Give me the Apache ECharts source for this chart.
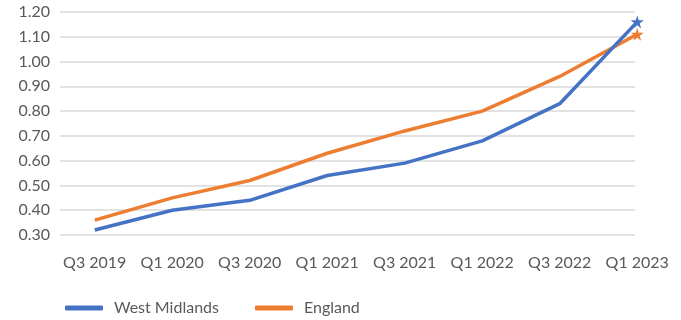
<!DOCTYPE html>
<html>
<head>
<meta charset="utf-8">
<script src="https://cdn.jsdelivr.net/npm/echarts@6/dist/echarts.min.js"></script>
<style>
  html, body { margin: 0; padding: 0; background: #ffffff; }
  #chart { width: 681px; height: 320px; }
</style>
</head>
<body>
<div id="chart"></div>
<script>
// Quarterly values for each area
const quarters = ['Q3 2019', 'Q1 2020', 'Q3 2020', 'Q1 2021', 'Q3 2021', 'Q1 2022', 'Q3 2022', 'Q1 2023'];
const westMidlands = [0.32, 0.40, 0.44, 0.54, 0.59, 0.68, 0.83, 1.16];
const england = [0.36, 0.45, 0.52, 0.63, 0.72, 0.80, 0.94, 1.11];
const yTicks = { min: 0.30, max: 1.20, step: 0.10 };

const blue = '#4472C4';
const orange = '#ED7D31';
const textColor = '#595959';
const font = 'Lato';

// star-like end marker
const starPath = 'path://M50,0 L61,35 L98,35 L68,57 L79,92 L50,70 L21,92 L32,57 L2,35 L39,35 Z';

function withEndMarker(values) {
  return values.map((v, i) => i === values.length - 1
    ? { value: v, symbol: starPath, symbolSize: 13 }
    : { value: v, symbol: 'none' });
}

const chart = echarts.init(document.getElementById('chart'), null, { renderer: 'canvas' });

chart.setOption({
  animation: false,
  backgroundColor: '#ffffff',
  textStyle: { fontFamily: font },
  legend: {
    left: 60,
    top: 295,
    itemWidth: 38,
    itemHeight: 5,
    itemGap: 36,
    icon: 'roundRect',
    textStyle: { color: textColor, fontSize: 16, fontFamily: font, padding: [0, 0, 0, 6] },
    data: ['West Midlands', 'England']
  },
  grid: [
    { left: 60, right: 46, top: 12, bottom: 85 },
    { left: 56, right: 5, top: 12, bottom: 85 }
  ],
  xAxis: [
    { gridIndex: 0, type: 'category', data: quarters, show: false },
    {
      gridIndex: 1,
      type: 'category',
      data: quarters,
      boundaryGap: true,
      axisLine: { show: false },
      axisTick: { show: false },
      axisLabel: { color: textColor, fontSize: 16, fontFamily: font, margin: 20, interval: 0 }
    }
  ],
  yAxis: [
    {
      gridIndex: 0,
      type: 'value',
      min: yTicks.min,
      max: yTicks.max,
      interval: yTicks.step,
      axisLine: { show: false },
      axisTick: { show: false },
      splitLine: { lineStyle: { color: '#d9d9d9', width: 1.5 } },
      axisLabel: {
        color: textColor, fontSize: 16, fontFamily: font, margin: 10,
        formatter: v => v.toFixed(2)
      }
    },
    {
      gridIndex: 1,
      type: 'value',
      min: yTicks.min,
      max: yTicks.max,
      interval: yTicks.step,
      show: false
    }
  ],
  series: [
    {
      name: 'West Midlands',
      type: 'line',
      xAxisIndex: 1,
      yAxisIndex: 1,
      data: withEndMarker(westMidlands),
      showAllSymbol: true,
      lineStyle: { color: blue, width: 3.5 },
      itemStyle: { color: blue },
      z: 3
    },
    {
      name: 'England',
      type: 'line',
      xAxisIndex: 1,
      yAxisIndex: 1,
      data: withEndMarker(england),
      showAllSymbol: true,
      lineStyle: { color: orange, width: 3.5 },
      itemStyle: { color: orange },
      z: 2
    }
  ]
});
</script>
</body>
</html>
